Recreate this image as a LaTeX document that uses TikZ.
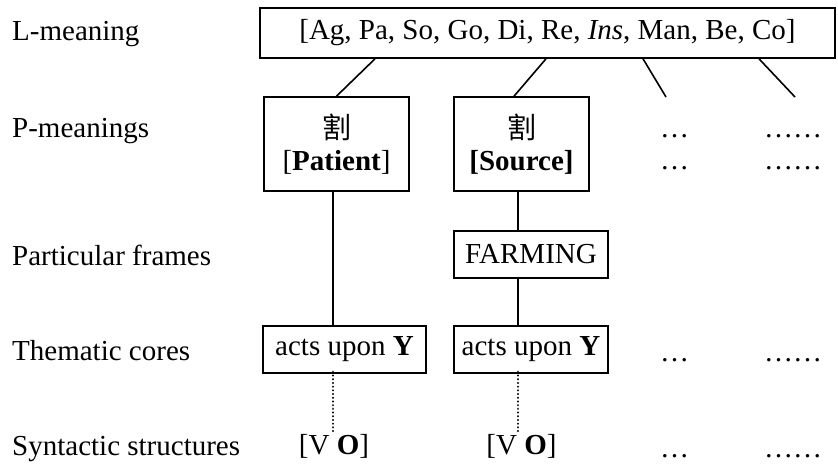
\documentclass[tikz,border=0pt]{standalone}
\usepackage{fontspec}
\setmainfont{Liberation Serif}
\newfontfamily\cjkfont{Noto Sans CJK SC}
\begin{document}
\begin{tikzpicture}[x=1pt,y=-1pt,
  every node/.style={font=\fontsize{29}{32}\selectfont},
  frame/.style={draw,line width=1.6pt,inner sep=0pt,align=center},
  link/.style={line width=1.6pt},
  dotlink/.style={line width=2.2pt,line cap=round,dash pattern=on 0.1pt off 3.6pt},
  rowlabel/.style={anchor=base west,inner sep=0pt},
  filler/.style={anchor=base,inner sep=0pt}]
\useasboundingbox (0,0) rectangle (838,464);

% row labels
\node[rowlabel] (rl) at (12,40) {L-meaning};
\node[rowlabel] (rp) at (12,137) {P-meanings};
\node[rowlabel] (rf) at (12,265) {Particular frames};
\node[rowlabel] (rt) at (12,360) {Thematic cores};
\node[rowlabel] (rs) at (12,455) {Syntactic structures};

% boxes
\node[frame,minimum width=575pt,minimum height=50pt] (L) at (547.5,33)
  {[Ag, Pa, So, Go, Di, Re, \textit{Ins}, Man, Be, Co]};
\node[frame,minimum width=145pt,minimum height=94pt] (P1) at (336.5,144)
  {{\cjkfont\fontsize{29}{32}\selectfont 割}\\\relax[\textbf{Patient}]};
\node[frame,minimum width=135pt,minimum height=94pt] (P2) at (521.5,144)
  {{\cjkfont\fontsize{29}{32}\selectfont 割}\\\relax\textbf{[Source]}};
\node[frame,minimum width=154pt,minimum height=47pt] (F) at (531,254.5) {FARMING};
\node[frame,minimum width=163pt,minimum height=47pt] (T1) at (344.5,349.5) {acts upon \textbf{Y}};
\node[frame,minimum width=154pt,minimum height=47pt] (T2) at (531,349.5) {acts upon \textbf{Y}};

% syntactic structures
\node[filler] (S1) at (334,454) {[V \textbf{O}]};
\node[filler] (S2) at (521.5,454) {[V \textbf{O}]};

% open slots
\node[filler] (a1) at (674.5,137) {…};
\node[filler] (a2) at (674.5,169) {…};
\node[filler] (a3) at (674.5,361) {…};
\node[filler] (a4) at (674.5,457) {…};
\node[filler] (b1) at (793,137) {……};
\node[filler] (b2) at (793,169) {……};
\node[filler] (b3) at (793,361) {……};
\node[filler] (b4) at (793,457) {……};

\coordinate (e1) at (666,97);
\coordinate (e2) at (795,97);

% connectors
\draw[link] ([xshift=-172.5pt]L.south) -- (P1.north);
\draw[link] ([xshift=-1.5pt]L.south) -- ([xshift=-7.5pt]P2.north);
\draw[link] ([xshift=95.5pt]L.south) -- (e1);
\draw[link] ([xshift=211.5pt]L.south) -- (e2);

\draw[link] ([xshift=-3.5pt]P1.south) coordinate (c1) -- (c1 |- T1.north);
\draw[link] ([xshift=-3.5pt]P2.south) coordinate (c2) -- (c2 |- F.north);
\draw[link] (c2 |- F.south) -- (c2 |- T2.north);

\draw[dotlink] ([yshift=2pt]c1 |- T1.south) -- ([yshift=2pt]c1 |- S1.north);
\draw[dotlink] ([yshift=2pt]c2 |- T2.south) -- ([yshift=2pt]c2 |- S2.north);
\end{tikzpicture}
\end{document}
